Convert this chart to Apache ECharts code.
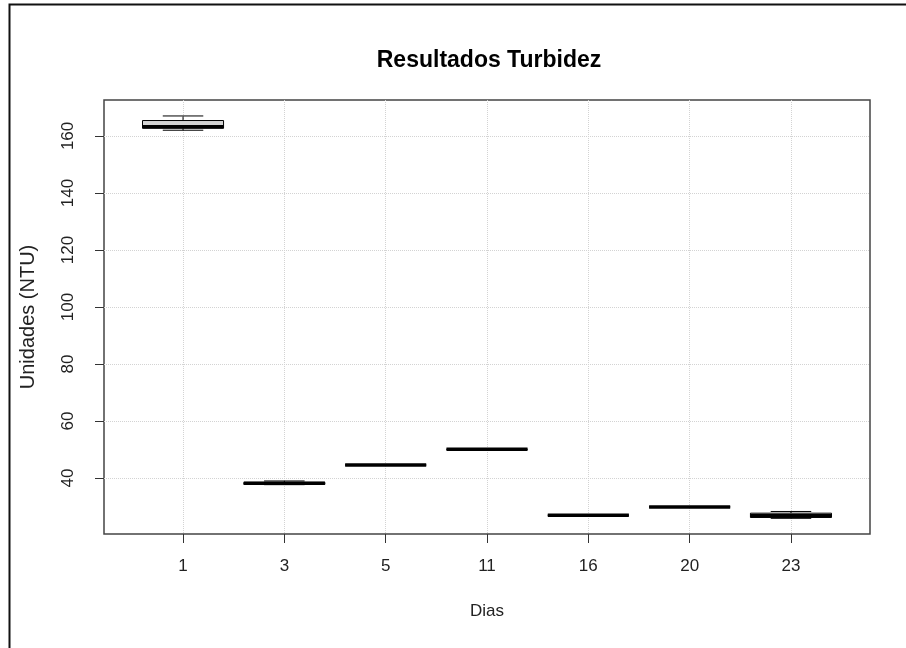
<!DOCTYPE html>
<html>
<head>
<meta charset="utf-8">
<script src="https://cdn.jsdelivr.net/npm/echarts@6/dist/echarts.min.js"></script>
<style>
    html, body { margin: 0; padding: 0; background: #fff; }
    #main { width: 906px; height: 648px; }
</style>
</head>
<body>
<div id="main"></div>
<script>
// dias de muestreo (categorias del eje x)
var dias = ['1', '3', '5', '11', '16', '20', '23'];
// estadisticos de cada caja, en NTU
var minimo  = [162.0, 37.7, 44.6, 50.1, 27.0, 29.9, 25.9];
var q1      = [162.7, 37.8, 44.6, 50.1, 27.0, 29.9, 26.2];
var mediana = [163.2, 38.2, 44.6, 50.1, 27.0, 29.9, 26.8];
var q3      = [165.4, 38.5, 44.6, 50.1, 27.0, 29.9, 27.7];
var maximo  = [167.0, 39.0, 44.6, 50.1, 27.0, 29.9, 28.3];
var yTicks = [40, 60, 80, 100, 120, 140, 160];

var xPos = [];
var cajas = [];
for (var i = 0; i < dias.length; i++) {
    xPos.push(i + 1);
    cajas.push([i + 1, minimo[i], q1[i], mediana[i], q3[i], maximo[i]]);
}

var fuente = 'Liberation Sans, Arial, sans-serif';

function dibujarCaja(params, api) {
    var x = api.value(0);
    var pMin = api.coord([x, api.value(1)]);
    var pQ1 = api.coord([x, api.value(2)]);
    var pMed = api.coord([x, api.value(3)]);
    var pQ3 = api.coord([x, api.value(4)]);
    var pMax = api.coord([x, api.value(5)]);
    var half = api.size([0.8, 0])[0] / 2;
    var staple = half / 2;
    var cx = pMed[0];
    var negro = {stroke: '#000', lineWidth: 1};
    return {
        type: 'group',
        children: [
            // bigotes
            {type: 'line', shape: {x1: cx, y1: pQ3[1], x2: cx, y2: pMax[1]},
                style: {stroke: '#000', lineWidth: 1, lineDash: [4, 3]}},
            {type: 'line', shape: {x1: cx, y1: pQ1[1], x2: cx, y2: pMin[1]},
                style: {stroke: '#000', lineWidth: 1, lineDash: [4, 3]}},
            {type: 'line', shape: {x1: cx - staple, y1: pMax[1], x2: cx + staple, y2: pMax[1]}, style: negro},
            {type: 'line', shape: {x1: cx - staple, y1: pMin[1], x2: cx + staple, y2: pMin[1]}, style: negro},
            // caja
            {type: 'rect', shape: {x: cx - half, y: pQ3[1], width: half * 2, height: pQ1[1] - pQ3[1]},
                style: {fill: '#d3d3d3', stroke: '#000', lineWidth: 1}},
            // mediana
            {type: 'line', shape: {x1: cx - half, y1: pMed[1], x2: cx + half, y2: pMed[1]},
                style: {stroke: '#000', lineWidth: 3.5}}
        ]
    };
}

var myChart = echarts.init(document.getElementById('main'));

var option = {
    backgroundColor: '#fff',
    animation: false,
    title: {
        text: 'Resultados Turbidez',
        left: 484,
        top: 44,
        textAlign: 'center',
        textStyle: {fontFamily: fuente, fontSize: 23, fontWeight: 'bold', color: '#000'}
    },
    graphic: [
        {   // marco exterior
            type: 'rect',
            shape: {x: 9.5, y: 4.5, width: 1000, height: 800},
            style: {fill: 'none', stroke: '#111', lineWidth: 2},
            silent: true
        }
    ],
    grid: {
        left: 104,
        right: 36,
        top: 100,
        bottom: 114,
        show: true,
        backgroundColor: 'transparent',
        borderColor: '#444',
        borderWidth: 1.5
    },
    xAxis: {
        type: 'value',
        min: 0.22,
        max: 7.78,
        name: 'Dias',
        nameLocation: 'middle',
        nameGap: 69,
        nameTextStyle: {fontFamily: fuente, fontSize: 17, color: '#222'},
        axisLine: {show: false},
        axisTick: {show: true, length: 9, customValues: xPos, lineStyle: {color: '#333'}},
        axisLabel: {
            customValues: xPos,
            margin: 24,
            fontFamily: fuente, fontSize: 17, color: '#222',
            formatter: function (v) { return dias[Math.round(v) - 1]; }
        },
        splitLine: {show: true, lineStyle: {type: 'dotted', color: '#d3d3d3', width: 1}}
    },
    yAxis: {
        type: 'value',
        min: 20.4,
        max: 172.6,
        name: 'Unidades (NTU)',
        nameLocation: 'middle',
        nameGap: 66,
        nameRotate: 90,
        nameTextStyle: {fontFamily: fuente, fontSize: 20, color: '#222'},
        axisLine: {show: false},
        axisTick: {show: true, length: 9, customValues: yTicks, lineStyle: {color: '#333'}},
        axisLabel: {
            customValues: yTicks,
            rotate: 90,
            margin: 27,
            fontFamily: fuente, fontSize: 17, color: '#222'
        },
        splitLine: {show: true, lineStyle: {type: 'dotted', color: '#d3d3d3', width: 1}}
    },
    series: [
        {
            type: 'custom',
            renderItem: dibujarCaja,
            encode: {x: 0, y: [1, 2, 3, 4, 5]},
            data: cajas,
            silent: true
        }
    ]
};

myChart.setOption(option);
</script>
</body>
</html>
